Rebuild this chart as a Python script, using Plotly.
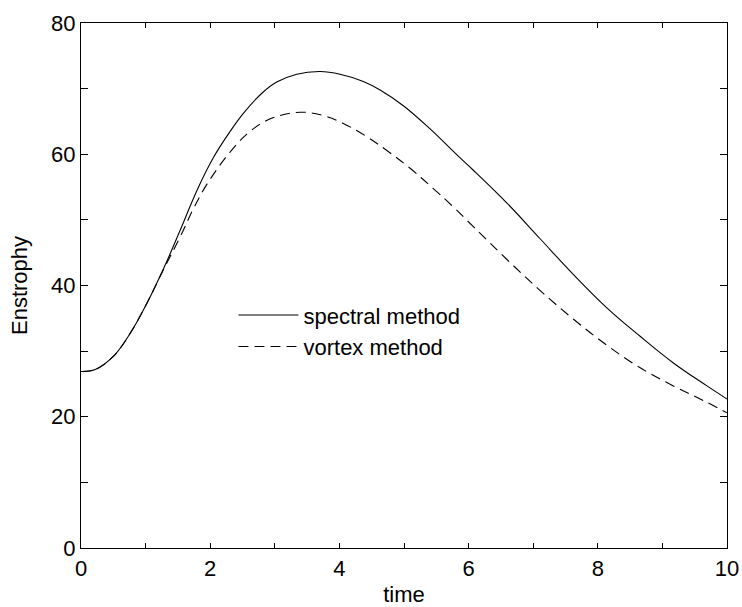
import plotly.graph_objects as go

# Spectral method
t_spectral = [0, 0.22, 0.5, 0.76, 1.02, 1.27, 1.53, 1.80, 2.05, 2.31, 2.51, 2.80, 3.03, 3.34, 3.70,
              4.01, 4.37, 4.63, 4.99, 5.40, 5.82, 6.07, 6.59, 7.10, 7.62, 8.14, 8.65, 9.17, 9.69, 10]
e_spectral = [26.9, 27.2, 29.2, 32.7, 37.3, 42.4, 48.3, 54.6, 59.5, 63.5, 66.2, 69.3, 71.0, 72.2, 72.6,
              72.2, 71.1, 69.8, 67.4, 63.9, 59.9, 57.6, 52.6, 47.2, 41.7, 36.6, 32.3, 28.2, 24.7, 22.7]

# Vortex method
t_vortex = [0, 0.22, 0.5, 0.76, 1.02, 1.27, 1.53, 1.75, 1.96, 2.33, 2.62, 2.93, 3.39, 3.75, 4.06, 4.42,
            4.73, 5.09, 5.45, 5.76, 6.07, 6.59, 7.10, 7.62, 8.14, 8.65, 9.17, 9.69, 10]
e_vortex = [26.9, 27.2, 29.2, 32.7, 37.3, 42.3, 47.3, 51.9, 55.6, 60.6, 63.5, 65.4, 66.4, 65.9, 64.7, 62.7,
            60.6, 57.9, 54.8, 52.0, 49.0, 44.0, 39.3, 34.9, 30.9, 27.5, 24.7, 22.2, 20.6]

series_names = ["spectral method", "vortex method"]

x_ticks = [0, 2, 4, 6, 8, 10]
y_ticks = [0, 20, 40, 60, 80]

fig = go.Figure()
fig.add_trace(go.Scatter(x=t_spectral, y=e_spectral, mode="lines", name=series_names[0],
                         line=dict(color="black", width=1.1, shape="spline", smoothing=1.1)))
fig.add_trace(go.Scatter(x=t_vortex, y=e_vortex, mode="lines", name=series_names[1],
                         line=dict(color="black", width=1.1, shape="spline", smoothing=1.1,
                                   dash="10px,6px")))

font = dict(family="Liberation Sans, Arial, sans-serif", size=22, color="black")

axis_common = dict(showline=True, linecolor="black", linewidth=1.2, mirror="ticks",
                   ticks="inside", tickcolor="black", showgrid=False, zeroline=False,
                   tickfont=font, automargin=False)

fig.update_xaxes(range=[0, 10], tickvals=x_ticks, ticklen=5, tickwidth=1,
                 minor=dict(dtick=1, ticks="inside", ticklen=5, tickcolor="black"),
                 title=dict(text="time", font=font, standoff=15), **axis_common)
fig.update_yaxes(range=[0, 80], tickvals=y_ticks, ticklen=7, tickwidth=1,
                 minor=dict(dtick=10, ticks="inside", ticklen=7, tickcolor="black"),
                 title=dict(text="Enstrophy", font=font, standoff=17), **axis_common)

fig.update_layout(
    width=742, height=607,
    margin=dict(l=81, r=15, t=23, b=59),
    paper_bgcolor="white", plot_bgcolor="white",
    font=font,
    showlegend=True,
    legend=dict(x=0.236, y=0.4835, xanchor="left", yanchor="top", bgcolor="rgba(0,0,0,0)",
                borderwidth=0, font=font, itemwidth=60, tracegroupgap=0),
)

fig.write_html("out.html", config={"displayModeBar": False},
               post_script="document.body.style.margin='0';document.body.style.overflow='hidden';")
